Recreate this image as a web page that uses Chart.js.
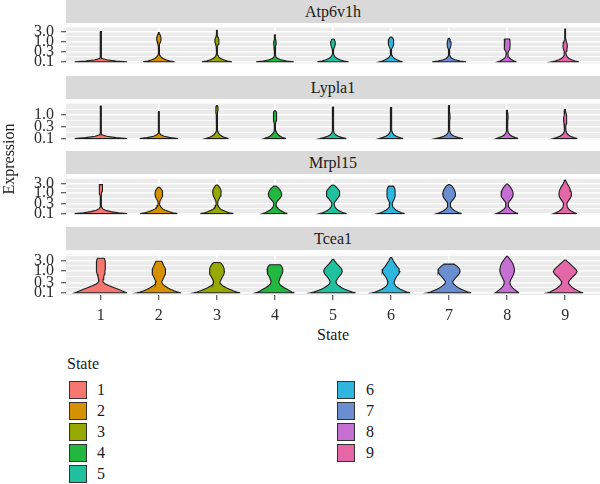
<!DOCTYPE html>
<html>
<head>
<meta charset="utf-8">
<script src="https://cdn.jsdelivr.net/npm/chart.js@4.4.0/dist/chart.umd.min.js"></script>
<style>
  body { margin: 0; background: #fff; font-family: "Liberation Serif", serif; }
  #wrap { position: relative; width: 600px; height: 484px; overflow: hidden; }
  .strip { position: absolute; left: 66px; width: 534px; height: 23px; background: #d9d9d9;
           color: #1a1a1a; font-size: 16px; line-height: 23px; text-align: center; }
  .panel { position: absolute; left: 0; width: 600px; }
  .txt { position: absolute; color: #1a1a1a; font-size: 16px; white-space: nowrap; }
  .key { position: absolute; width: 16px; height: 16px; border: 1px solid #333; }
</style>
</head>
<body>
<div id="wrap">
  <div class="strip" style="top:0px">Atp6v1h</div>
  <div class="strip" style="top:76px">Lypla1</div>
  <div class="strip" style="top:151px">Mrpl15</div>
  <div class="strip" style="top:227px">Tcea1</div>
  <div class="panel" style="top:11px;height:69px"><canvas id="c0" width="600" height="69"></canvas></div>
  <div class="panel" style="top:87px;height:69px"><canvas id="c1" width="600" height="69"></canvas></div>
  <div class="panel" style="top:162px;height:69px"><canvas id="c2" width="600" height="69"></canvas></div>
  <div class="panel" style="top:238px;height:87px"><canvas id="c3" width="600" height="87"></canvas></div>
  <div class="txt" style="left:-31px;top:150px;width:80px;text-align:center;transform:rotate(-90deg)">Expression</div>
  <div class="txt" style="left:66px;top:326px;width:534px;text-align:center">State</div>
  <div class="txt" style="left:67px;top:355px">State</div>
  <div id="legend"></div>
</div>
<script>
// categories and colours
const states = ['1', '2', '3', '4', '5', '6', '7', '8', '9'];
const stateColors = ['#f5776f', '#d69100', '#95a900', '#22b83f', '#20c19f', '#2eb6de', '#6b8ed1', '#c46fd1', '#e468a8'];
const genes = ['Atp6v1h', 'Lypla1', 'Mrpl15', 'Tcea1'];

// expression levels (log axis) where violin half-widths were read
const levels = [0.1, 0.11, 0.125, 0.145, 0.17, 0.21, 0.26, 0.33, 0.42, 0.55, 0.72, 0.95, 1.25, 1.65, 2.2, 2.9, 3.8];

// y tick labels
const majorTicks = [0.1, 0.3, 1, 3];
const majorLabels = ['0.1', '0.3', '1.0', '3.0'];
const minorTicks = [0.173, 0.548, 1.73, 5.2];

// y range of each facet
const yMin = [0.0836, 0.0927, 0.0912, 0.0794];
const yMax = [4.7, 2.93, 5.13, 5.75];

// top (max expression) of each violin, per gene
const atp6v1hTops = [3.0, 2.7, 3.5, 2.07, 1.3, 1.6, 1.4, 1.3, 4.0];
const lypla1Tops = [2.3, 1.35, 2.4, 1.45, 2.1, 2.0, 2.4, 1.55, 1.65];
const mrpl15Tops = [2.6, 1.9, 2.5, 2.2, 2.5, 2.2, 2.6, 2.8, 4.4];
const tcea1Tops = [3.9, 2.85, 2.5, 1.96, 3.5, 4.2, 2.1, 4.8, 3.2];

// half widths (category units) at each level below the top, last value = width at the top
const atp6v1hWidths = [
  [0.45, 0.26, 0.10, 0.02, 0.01, 0.01, 0.01, 0.01, 0.01, 0.01, 0.01, 0.011, 0.011, 0.01, 0.01, 0.008, 0.006],
  [0.27, 0.19, 0.12, 0.07, 0.04, 0.018, 0.008, 0.007, 0.007, 0.009, 0.018, 0.03, 0.038, 0.033, 0.018, 0.006],
  [0.26, 0.18, 0.11, 0.065, 0.035, 0.016, 0.008, 0.007, 0.007, 0.012, 0.022, 0.035, 0.033, 0.018, 0.008, 0.007, 0.005],
  [0.325, 0.2, 0.1, 0.045, 0.02, 0.009, 0.007, 0.007, 0.009, 0.016, 0.022, 0.02, 0.012, 0.007, 0.005],
  [0.27, 0.19, 0.12, 0.07, 0.04, 0.018, 0.008, 0.007, 0.012, 0.03, 0.04, 0.038, 0.02, 0.006],
  [0.2, 0.15, 0.1, 0.06, 0.035, 0.016, 0.008, 0.007, 0.012, 0.032, 0.045, 0.047, 0.04, 0.015],
  [0.29, 0.19, 0.1, 0.05, 0.025, 0.012, 0.008, 0.007, 0.012, 0.028, 0.035, 0.032, 0.018, 0.006],
  [0.16, 0.12, 0.08, 0.05, 0.03, 0.018, 0.012, 0.025, 0.045, 0.05, 0.05, 0.05, 0.045, 0.04],
  [0.235, 0.17, 0.11, 0.065, 0.04, 0.02, 0.012, 0.018, 0.03, 0.038, 0.035, 0.022, 0.011, 0.008, 0.007, 0.007, 0.006, 0.005]
];
const lypla1Widths = [
  [0.45, 0.26, 0.1, 0.02, 0.009, 0.009, 0.009, 0.009, 0.009, 0.009, 0.009, 0.009, 0.009, 0.009, 0.008, 0.006],
  [0.33, 0.2, 0.09, 0.035, 0.013, 0.008, 0.008, 0.008, 0.008, 0.008, 0.008, 0.008, 0.008, 0.006],
  [0.2, 0.14, 0.09, 0.05, 0.028, 0.014, 0.008, 0.007, 0.007, 0.007, 0.008, 0.011, 0.016, 0.02, 0.016, 0.007],
  [0.19, 0.14, 0.09, 0.055, 0.032, 0.016, 0.009, 0.008, 0.01, 0.018, 0.027, 0.03, 0.025, 0.01],
  [0.23, 0.16, 0.09, 0.045, 0.022, 0.011, 0.008, 0.007, 0.007, 0.008, 0.01, 0.012, 0.015, 0.015, 0.006],
  [0.21, 0.15, 0.09, 0.05, 0.028, 0.013, 0.008, 0.007, 0.009, 0.013, 0.015, 0.014, 0.01, 0.008, 0.006],
  [0.24, 0.16, 0.09, 0.045, 0.022, 0.011, 0.008, 0.007, 0.009, 0.014, 0.018, 0.016, 0.01, 0.008, 0.007, 0.006],
  [0.19, 0.14, 0.085, 0.045, 0.024, 0.012, 0.008, 0.007, 0.009, 0.014, 0.017, 0.015, 0.01, 0.006],
  [0.21, 0.15, 0.09, 0.05, 0.028, 0.014, 0.01, 0.012, 0.02, 0.027, 0.028, 0.02, 0.011, 0.006]
];
const mrpl15Widths = [
  [0.45, 0.3, 0.17, 0.08, 0.035, 0.014, 0.008, 0.007, 0.007, 0.007, 0.009, 0.015, 0.025, 0.03, 0.03, 0.025],
  [0.32, 0.24, 0.17, 0.11, 0.065, 0.032, 0.016, 0.013, 0.02, 0.045, 0.062, 0.067, 0.06, 0.035, 0.015],
  [0.285, 0.21, 0.15, 0.1, 0.06, 0.03, 0.016, 0.013, 0.02, 0.04, 0.06, 0.07, 0.073, 0.06, 0.03, 0.012],
  [0.215, 0.17, 0.13, 0.09, 0.06, 0.035, 0.022, 0.022, 0.045, 0.085, 0.11, 0.115, 0.1, 0.07, 0.02],
  [0.235, 0.18, 0.13, 0.09, 0.06, 0.035, 0.022, 0.022, 0.045, 0.08, 0.105, 0.117, 0.11, 0.08, 0.04, 0.01],
  [0.235, 0.18, 0.13, 0.09, 0.06, 0.035, 0.022, 0.022, 0.04, 0.062, 0.07, 0.07, 0.07, 0.065, 0.04],
  [0.217, 0.17, 0.12, 0.085, 0.055, 0.032, 0.022, 0.025, 0.05, 0.085, 0.105, 0.11, 0.1, 0.08, 0.05, 0.012],
  [0.19, 0.15, 0.11, 0.08, 0.05, 0.03, 0.02, 0.022, 0.045, 0.08, 0.1, 0.105, 0.095, 0.075, 0.045, 0.008],
  [0.2, 0.16, 0.12, 0.085, 0.058, 0.038, 0.03, 0.032, 0.055, 0.085, 0.103, 0.108, 0.1, 0.085, 0.06, 0.035, 0.015, 0.005]
];
const tcea1Widths = [
  [0.45, 0.41, 0.36, 0.3, 0.23, 0.145, 0.07, 0.035, 0.04, 0.05, 0.062, 0.07, 0.075, 0.078, 0.078, 0.074, 0.06, 0.05],
  [0.38, 0.32, 0.26, 0.2, 0.15, 0.1, 0.06, 0.05, 0.07, 0.09, 0.11, 0.117, 0.11, 0.09, 0.07, 0.05],
  [0.4, 0.34, 0.28, 0.22, 0.16, 0.1, 0.065, 0.055, 0.075, 0.097, 0.12, 0.13, 0.125, 0.11, 0.08, 0.05],
  [0.335, 0.29, 0.25, 0.21, 0.16, 0.11, 0.075, 0.068, 0.08, 0.097, 0.12, 0.135, 0.135, 0.115, 0.09],
  [0.39, 0.33, 0.27, 0.2, 0.15, 0.1, 0.06, 0.05, 0.07, 0.1, 0.14, 0.16, 0.15, 0.11, 0.065, 0.03, 0.01],
  [0.33, 0.27, 0.22, 0.16, 0.12, 0.08, 0.058, 0.055, 0.07, 0.094, 0.13, 0.152, 0.14, 0.1, 0.07, 0.04, 0.02, 0.008],
  [0.38, 0.32, 0.27, 0.21, 0.16, 0.115, 0.075, 0.062, 0.09, 0.13, 0.17, 0.19, 0.18, 0.14, 0.085],
  [0.205, 0.18, 0.155, 0.125, 0.095, 0.067, 0.052, 0.05, 0.068, 0.09, 0.11, 0.125, 0.125, 0.115, 0.1, 0.07, 0.04, 0.008],
  [0.31, 0.26, 0.22, 0.17, 0.13, 0.094, 0.065, 0.06, 0.09, 0.13, 0.18, 0.205, 0.18, 0.13, 0.08, 0.03, 0.012]
];

const geneWidths = [atp6v1hWidths, lypla1Widths, mrpl15Widths, tcea1Widths];
const geneTops = [atp6v1hTops, lypla1Tops, mrpl15Tops, tcea1Tops];

Chart.defaults.font.family = '"Liberation Serif", serif';

// closed outline of one violin: up the right side, across the top, down the left side
function violinPoints(center, w, top) {
  const below = levels.filter(y => y < top);
  const tw = w[w.length - 1];
  const right = below.map((y, i) => ({ x: center + w[i], y: y }));
  const left = below.map((y, i) => ({ x: center - w[i], y: y })).reverse();
  return right.concat([{ x: center + tw, y: top }, { x: center - tw, y: top }], left, [right[0]]);
}

const panelBg = {
  id: 'panelBg',
  beforeDraw(chart) {
    const { ctx, chartArea: a } = chart;
    ctx.save();
    ctx.fillStyle = '#ebebeb';
    ctx.fillRect(a.left, a.top, a.width, a.height);
    ctx.restore();
  }
};

function makeChart(gi) {
  const isBottom = gi === genes.length - 1;
  const datasets = states.map((s, si) => ({
    label: s,
    data: violinPoints(si + 1, geneWidths[gi][si], geneTops[gi][si]),
    borderColor: '#1e1e1e',
    borderWidth: 1.1,
    backgroundColor: stateColors[si],
    fill: 'shape',
    pointRadius: 0,
    tension: 0
  }));
  new Chart(document.getElementById('c' + gi), {
    type: 'line',
    data: { datasets },
    options: {
      responsive: false,
      animation: false,
      events: [],
      layout: { padding: { top: 12, bottom: isBottom ? 0 : 12, left: 0, right: 0 } },
      plugins: { legend: { display: false }, tooltip: { enabled: false } },
      scales: {
        x: {
          type: 'linear', min: 0.4, max: 9.6,
          afterBuildTicks: s => { s.ticks = states.map((_, i) => ({ value: i + 1 })); },
          afterFit: s => { s.height = isBottom ? 30 : 0; },
          border: { display: false },
          grid: { color: '#ffffff', lineWidth: 1.5, drawTicks: isBottom, tickLength: 5, tickColor: '#333', tickWidth: 1 },
          ticks: {
            display: isBottom, autoSkip: false, maxRotation: 0, padding: 6,
            color: '#2b2b2b', font: { size: 16 },
            callback: v => states[v - 1]
          }
        },
        y: {
          type: 'logarithmic', min: yMin[gi], max: yMax[gi],
          afterBuildTicks: s => {
            const ticks = majorTicks.map(v => ({ value: v, minor: false }))
              .concat(minorTicks.map(v => ({ value: v, minor: true })))
              .filter(t => t.value >= s.min && t.value <= s.max);
            ticks.sort((a, b) => a.value - b.value);
            s.ticks = ticks;
          },
          afterFit: s => { s.width = 66; },
          border: { display: false },
          grid: {
            color: '#ffffff',
            lineWidth: c => (c.tick && c.tick.minor ? 0.8 : 1.5),
            tickLength: 5,
            tickWidth: 1,
            tickColor: c => (c.tick && c.tick.minor ? 'rgba(0,0,0,0)' : '#333')
          },
          ticks: {
            autoSkip: false, padding: 7, color: '#2b2b2b', font: { size: 16 },
            callback: v => { const i = majorTicks.indexOf(v); return i >= 0 ? majorLabels[i] : ''; }
          }
        }
      }
    },
    plugins: [panelBg]
  });
}

genes.forEach((g, gi) => makeChart(gi));

// legend, two columns
const legend = document.getElementById('legend');
states.forEach((s, i) => {
  const col = i < 5 ? 0 : 1;
  const row = i % 5;
  const top = 381 + row * 21;
  const box = document.createElement('div');
  box.className = 'key';
  box.style.left = (col ? 337 : 69) + 'px';
  box.style.top = top + 'px';
  box.style.background = stateColors[i];
  legend.appendChild(box);
  const lab = document.createElement('div');
  lab.className = 'txt';
  lab.style.left = (col ? 366 : 97) + 'px';
  lab.style.top = top + 'px';
  lab.style.lineHeight = '18px';
  lab.textContent = s;
  legend.appendChild(lab);
});
</script>
</body>
</html>
